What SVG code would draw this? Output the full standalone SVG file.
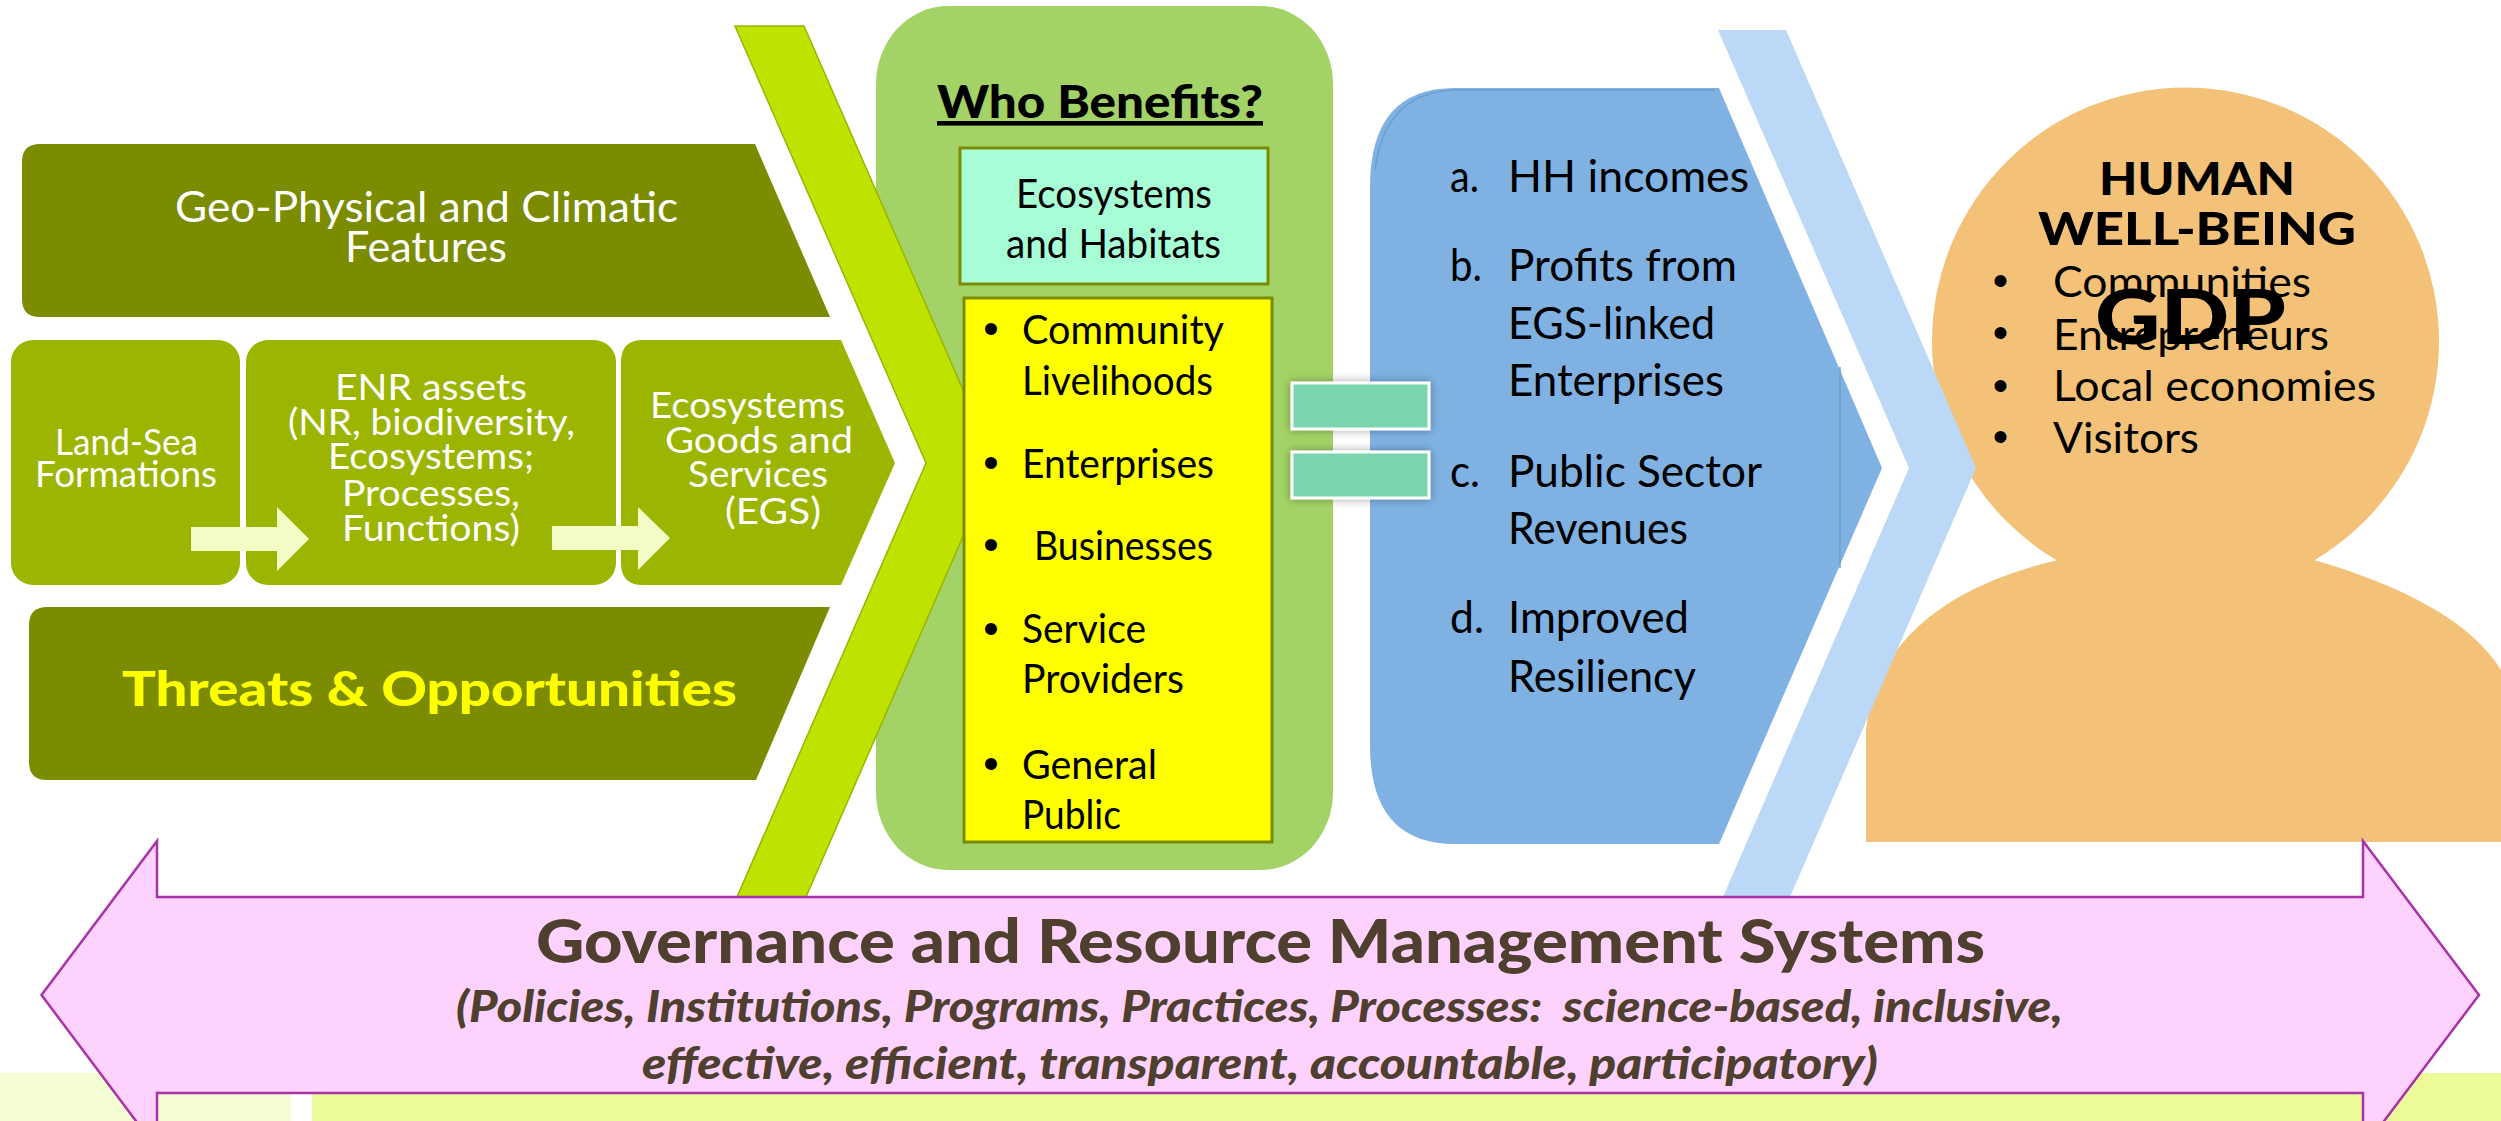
<svg xmlns="http://www.w3.org/2000/svg" width="2501" height="1121" viewBox="0 0 2501 1121">
<style>
text{font-family:"Lato","Open Sans","Liberation Sans",sans-serif;white-space:pre}
.w{fill:#fff;font-size:42px}
.s{fill:#fff;font-size:36px}
.k{fill:#000;font-size:44px}
.y{fill:#000;font-size:40px}
.l{fill:#000;font-size:42px}
.kb{fill:#000;font-size:46px;font-weight:900}
.b{fill:#000;font-size:44px;font-family:"Liberation Sans",sans-serif}
.g1{fill:#4f3f2f;font-size:60px;font-weight:900}
.g2{fill:#4f3f2f;font-size:44px;font-weight:900;font-style:italic}
.olive{fill:#7b8c00}
.mid{fill:#9bb500}
.arr{fill:#f3fcc5}
.bar{fill:#79d5ae;stroke:#fff;stroke-width:3;filter:url(#sh)}
</style>
<defs>
<filter id="sh" x="-15%" y="-40%" width="130%" height="180%"><feDropShadow dx="0" dy="0" stdDeviation="5" flood-color="#000" flood-opacity="0.35"/></filter>
</defs>
<rect width="2501" height="1121" fill="#fff"/>
<g id="band">
<rect x="0" y="1073" width="291" height="48" fill="#f5fdd5"/>
<rect x="312" y="1073" width="2189" height="48" fill="#ecfa9a"/>
</g>
<g id="who-benefits">
<rect x="876" y="6" width="457" height="864" rx="72" ry="78" fill="#a3d366"/>
<polygon points="870,330 926,463 870,590" fill="#fff"/>
<polygon points="735,26 804,26 995,463 806,897 737,897 926,463" fill="#bee300" stroke="#9bb500" stroke-width="1.5"/>
<text x="937" y="118" style="font-size:46px;font-weight:900;fill:#000;text-decoration:underline" textLength="326" lengthAdjust="spacingAndGlyphs">Who Benefits?</text>
</g>
<g id="geo-physical">
<path class="olive" d="M40,144H755L830,317H40Q22,317 22,299V162Q22,144 40,144Z"/>
<text class="w" x="175" y="222" textLength="503" lengthAdjust="spacingAndGlyphs">Geo-Physical and Climatic</text>
<text class="w" x="345" y="262" textLength="162" lengthAdjust="spacingAndGlyphs">Features</text>
</g>
<g id="land-sea">
<rect class="mid" x="11" y="340" width="229" height="245" rx="22"/>
<text class="s" x="55" y="455" textLength="143" lengthAdjust="spacingAndGlyphs">Land-Sea</text>
<text class="s" x="35" y="487" textLength="182" lengthAdjust="spacingAndGlyphs">Formations</text>
</g>
<g id="enr-assets">
<rect class="mid" x="246" y="340" width="370" height="245" rx="22"/>
<text class="s" x="335" y="400" textLength="192" lengthAdjust="spacingAndGlyphs">ENR assets</text>
<text class="s" x="288" y="435" textLength="287" lengthAdjust="spacingAndGlyphs">(NR, biodiversity,</text>
<text class="s" x="328" y="469" textLength="206" lengthAdjust="spacingAndGlyphs">Ecosystems;</text>
<text class="s" x="342" y="506" textLength="178" lengthAdjust="spacingAndGlyphs">Processes,</text>
<text class="s" x="342" y="541" textLength="178" lengthAdjust="spacingAndGlyphs">Functions)</text>
</g>
<g id="egs">
<path class="mid" d="M643,340H841L895,463L841,585H643Q621,585 621,563V362Q621,340 643,340Z"/>
<text class="s" x="650" y="418" textLength="195" lengthAdjust="spacingAndGlyphs">Ecosystems</text>
<text class="s" x="665" y="453" textLength="188" lengthAdjust="spacingAndGlyphs">Goods and</text>
<text class="s" x="688" y="487" textLength="140" lengthAdjust="spacingAndGlyphs">Services</text>
<text class="s" x="725" y="524" textLength="96" lengthAdjust="spacingAndGlyphs">(EGS)</text>
</g>
<g id="threats">
<path class="olive" d="M47,607H830L756,780H47Q29,780 29,762V625Q29,607 47,607Z"/>
<text x="122" y="706" style="font-size:48px;font-weight:900;fill:#ffff00" textLength="615" lengthAdjust="spacingAndGlyphs">Threats &amp; Opportunities</text>
</g>
<g id="ecosystems-habitats">
<rect x="960" y="148" width="308" height="136" fill="#a6fdd6" stroke="#7b8c00" stroke-width="3"/>
<text class="y" x="1016" y="208" textLength="196" lengthAdjust="spacingAndGlyphs">Ecosystems</text>
<text class="y" x="1006" y="258" textLength="215" lengthAdjust="spacingAndGlyphs">and Habitats</text>
</g>
<g id="beneficiaries">
<rect x="964" y="298" width="308" height="544" fill="#ffff00" stroke="#7b8c00" stroke-width="3"/>
<text class="b" x="991" y="344" text-anchor="middle">•</text>
<text class="b" x="991" y="478" text-anchor="middle">•</text>
<text class="b" x="991" y="560" text-anchor="middle">•</text>
<text class="b" x="991" y="644" text-anchor="middle">•</text>
<text class="b" x="991" y="779" text-anchor="middle">•</text>
<text class="y" x="1022" y="344" textLength="202" lengthAdjust="spacingAndGlyphs">Community</text>
<text class="y" x="1022" y="395" textLength="191" lengthAdjust="spacingAndGlyphs">Livelihoods</text>
<text class="y" x="1022" y="478" textLength="192" lengthAdjust="spacingAndGlyphs">Enterprises</text>
<text class="y" x="1034" y="560" textLength="179" lengthAdjust="spacingAndGlyphs">Businesses</text>
<text class="y" x="1022" y="643" textLength="124" lengthAdjust="spacingAndGlyphs">Service</text>
<text class="y" x="1022" y="693" textLength="162" lengthAdjust="spacingAndGlyphs">Providers</text>
<text class="y" x="1022" y="779" textLength="135" lengthAdjust="spacingAndGlyphs">General</text>
<text class="y" x="1022" y="829" textLength="99" lengthAdjust="spacingAndGlyphs">Public</text>
</g>
<g id="outcomes">
<path d="M1455,88H1719L1882,468L1719,844H1455Q1370,844 1370,745V187Q1370,88 1455,88Z" fill="#7fb2e2"/>
<path d="M1840,367V568" stroke="#6f9fcc" stroke-width="1.5" fill="none"/>
<path d="M1375,170Q1385,92 1455,90H1715" stroke="#6d9fd0" stroke-width="1.5" fill="none"/>
<text class="k" x="1450" y="192" textLength="29" lengthAdjust="spacingAndGlyphs">a.</text>
<text class="k" x="1508" y="192" textLength="241" lengthAdjust="spacingAndGlyphs">HH incomes</text>
<text class="k" x="1450" y="281" textLength="32" lengthAdjust="spacingAndGlyphs">b.</text>
<text class="k" x="1508" y="281" textLength="229" lengthAdjust="spacingAndGlyphs">Profits from</text>
<text class="k" x="1508" y="339" textLength="207" lengthAdjust="spacingAndGlyphs">EGS-linked</text>
<text class="k" x="1508" y="396" textLength="216" lengthAdjust="spacingAndGlyphs">Enterprises</text>
<text class="k" x="1450" y="487" textLength="30" lengthAdjust="spacingAndGlyphs">c.</text>
<text class="k" x="1508" y="487" textLength="254" lengthAdjust="spacingAndGlyphs">Public Sector</text>
<text class="k" x="1508" y="544" textLength="180" lengthAdjust="spacingAndGlyphs">Revenues</text>
<text class="k" x="1450" y="633" textLength="34" lengthAdjust="spacingAndGlyphs">d.</text>
<text class="k" x="1508" y="633" textLength="181" lengthAdjust="spacingAndGlyphs">Improved</text>
<text class="k" x="1508" y="692" textLength="188" lengthAdjust="spacingAndGlyphs">Resiliency</text>
</g>
<g id="equals">
<rect class="bar" x="1292" y="383" width="137" height="46"/>
<rect class="bar" x="1292" y="452" width="137" height="46"/>
</g>
<g id="human-well-being">
<ellipse cx="2185.5" cy="341.5" rx="253.5" ry="254" fill="#f3c278"/>
<path d="M1866,842V730C1875,640 1950,585 2058,560H2314C2400,585 2470,620 2501,670V842Z" fill="#f3c278"/>
<polygon points="1718,30 1786,30 1976,468 1790,897 1723,897 1909,468" fill="#bbd9f7"/>
<text class="kb" x="2099" y="195" textLength="196" lengthAdjust="spacingAndGlyphs">HUMAN</text>
<text class="kb" x="2038" y="245" textLength="318" lengthAdjust="spacingAndGlyphs">WELL-BEING</text>
<text class="b" x="2000.5" y="296" text-anchor="middle">•</text>
<text class="b" x="2000.5" y="348" text-anchor="middle">•</text>
<text class="b" x="2000.5" y="401" text-anchor="middle">•</text>
<text class="b" x="2000.5" y="452" text-anchor="middle">•</text>
<text class="l" x="2053" y="297" textLength="258" lengthAdjust="spacingAndGlyphs">Communities</text>
<text class="l" x="2053" y="350" textLength="276" lengthAdjust="spacingAndGlyphs">Entrepreneurs</text>
<text class="l" x="2053" y="401" textLength="323" lengthAdjust="spacingAndGlyphs">Local economies</text>
<text class="l" x="2053" y="453" textLength="146" lengthAdjust="spacingAndGlyphs">Visitors</text>
<text x="2095" y="344" style="font-size:76px;font-weight:900;fill:#000" textLength="191" lengthAdjust="spacingAndGlyphs">GDP</text>
</g>
<g id="connectors">
<polygon class="arr" points="191,527 277,527 277,507 309,539 277,571 277,551 191,551"/>
<polygon class="arr" points="552,526 638,526 638,507 670,538 638,570 638,550 552,550"/>
</g>
<g id="governance">
<polygon points="41.5,995 157,841 157,897 2363,897 2363,841 2479,995 2363,1149 2363,1093 157,1093 157,1149" fill="#fdd3fd" stroke="#a832a8" stroke-width="2.5"/>
<text class="g1" x="536" y="963" textLength="1449" lengthAdjust="spacingAndGlyphs">Governance and Resource Management Systems</text>
<text class="g2" x="456" y="1022" textLength="1607" lengthAdjust="spacingAndGlyphs">(Policies, Institutions, Programs, Practices, Processes:  science-based, inclusive,</text>
<text class="g2" x="642" y="1079" textLength="1236" lengthAdjust="spacingAndGlyphs">effective, efficient, transparent, accountable, participatory)</text>
</g>
</svg>
